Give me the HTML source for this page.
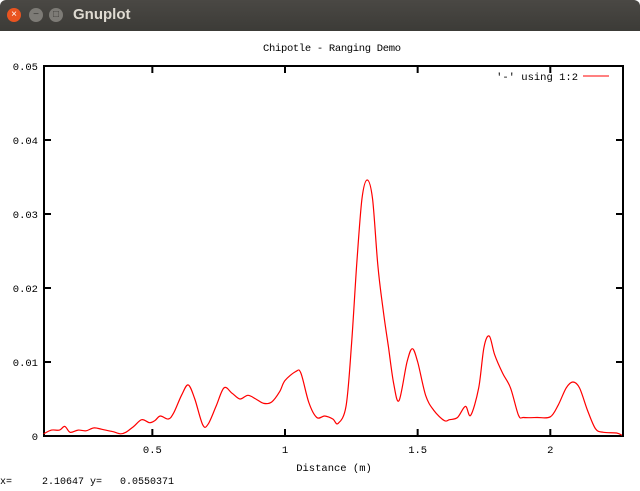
<!DOCTYPE html>
<html><head><meta charset="utf-8">
<style>
html,body{margin:0;padding:0;background:#fff;}
body{width:640px;height:491px;position:relative;overflow:hidden;font-family:"Liberation Sans",sans-serif;}
#titlebar{position:absolute;left:0;top:0;width:640px;height:31px;background:linear-gradient(#4a4844,#3c3b37);border-radius:6px 6px 0 0;}
.btn{position:absolute;top:8px;width:14px;height:14px;border-radius:50%;font-size:10px;line-height:14px;text-align:center;color:#3c3b37;}
#wtitle{position:absolute;left:73px;top:6px;color:#dfdbd2;font-weight:bold;font-size:15px;}
.st{position:absolute;top:477px;font-family:"Liberation Mono",monospace;font-size:10px;color:#000;white-space:pre;}
svg text{font-family:"Liberation Mono",monospace;font-size:10.5px;fill:#000;}
</style></head><body>
<div id="titlebar">
 <div class="btn" style="left:7px;background:#e95420;color:#fff">×</div>
 <div class="btn" style="left:29px;background:#7d7b76">−</div>
 <div class="btn" style="left:49px;background:#7d7b76">□</div>
 <div id="wtitle">Gnuplot</div>
</div>
<svg id="chart" width="640" height="491" style="position:absolute;left:0;top:0">
 <text x="332" y="51" text-anchor="middle" textLength="138">Chipotle - Ranging Demo</text>
 <text x="334" y="471" text-anchor="middle">Distance (m)</text>
 <g id="axes"></g>
 <g id="legend">
  <text x="578" y="80" text-anchor="end">'-' using 1:2</text>
  <line x1="583" y1="76" x2="609" y2="76" stroke="#f00" stroke-width="1"/>
 </g>
 <path id="series" fill="none" stroke="#f00" stroke-width="1.2"/>
</svg>
<div class="st" style="left:0">x=</div>
<div class="st" style="left:42px">2.10647 y=</div>
<div class="st" style="left:120px">0.0550371</div>
<script>
const xs=[0.09,0.12,0.15,0.17,0.19,0.22,0.25,0.28,0.31,0.35,0.38,0.40,0.43,0.46,0.49,0.51,0.53,0.56,0.58,0.61,0.635,0.66,0.69,0.71,0.74,0.77,0.80,0.83,0.86,0.89,0.92,0.95,0.98,1.00,1.04,1.06,1.09,1.12,1.15,1.18,1.20,1.23,1.25,1.27,1.29,1.31,1.33,1.35,1.37,1.39,1.41,1.43,1.46,1.48,1.50,1.53,1.56,1.60,1.62,1.65,1.68,1.70,1.73,1.75,1.77,1.79,1.82,1.85,1.88,1.90,1.95,2.00,2.03,2.06,2.085,2.11,2.14,2.17,2.20,2.25,2.27];
const ys=[0.0003,0.0008,0.0008,0.0013,0.0005,0.0008,0.0007,0.0011,0.0009,0.0006,0.0003,0.0005,0.0013,0.0022,0.0018,0.0021,0.0027,0.0023,0.0031,0.0055,0.0069,0.005,0.0015,0.0016,0.004,0.0065,0.0058,0.005,0.0055,0.005,0.0044,0.0046,0.006,0.0075,0.0087,0.0085,0.0045,0.0025,0.0027,0.0023,0.0017,0.004,0.012,0.023,0.032,0.0346,0.032,0.023,0.017,0.012,0.007,0.0048,0.01,0.0118,0.01,0.0055,0.0035,0.0021,0.0022,0.0025,0.004,0.0028,0.0065,0.012,0.0135,0.011,0.0085,0.0065,0.0028,0.0025,0.0025,0.0026,0.0042,0.0065,0.0073,0.0065,0.0035,0.001,0.0005,0.0004,0.0001];
const xTicks=[0.5,1,1.5,2];
const xTickLabels=["0.5","1","1.5","2"];
const yTicks=[0,0.01,0.02,0.03,0.04,0.05];
const yTickLabels=["0","0.01","0.02","0.03","0.04","0.05"];
const L=44,R=623,T=66,B=436,XMIN=0.0916,XMAX=2.274,YMIN=0,YMAX=0.05;
function sx(v){return L+(v-XMIN)/(XMAX-XMIN)*(R-L);}
function sy(v){return B-(v-YMIN)/(YMAX-YMIN)*(B-T);}
const NS="http://www.w3.org/2000/svg";
const ax=document.getElementById('axes');
function mk(tag,attrs,parent){const e=document.createElementNS(NS,tag);for(const k in attrs)e.setAttribute(k,attrs[k]);parent.appendChild(e);return e;}
const frame=mk('rect',{x:L,y:T,width:R-L,height:B-T,fill:'none',stroke:'#000','stroke-width':2},ax);


xTicks.forEach((v,i)=>{
 const x=sx(v);
 const t1=mk('line',{x1:x,y1:B,x2:x,y2:B-7,stroke:'#000','stroke-width':2},ax);
 
 
 const t2=mk('line',{x1:x,y1:T,x2:x,y2:T+7,stroke:'#000','stroke-width':2},ax);
 
 
 const lb=mk('text',{x:x,y:B+17,'text-anchor':'middle'},ax);lb.textContent=xTickLabels[i];
 
 
});
yTicks.forEach((v,i)=>{
 const y=sy(v);
 if(i>0&&i<yTicks.length-1){
  const t1=mk('line',{x1:L,y1:y,x2:L+7,y2:y,stroke:'#000','stroke-width':2},ax);
  
  
  const t2=mk('line',{x1:R,y1:y,x2:R-7,y2:y,stroke:'#000','stroke-width':2},ax);
  
  
 }
 const lb=mk('text',{x:38,y:y+4,'text-anchor':'end'},ax);lb.textContent=yTickLabels[i];
 
 
});
const P=xs.map((v,i)=>[sx(v),sy(ys[i])]);
let d='M'+P[0][0].toFixed(1)+','+P[0][1].toFixed(1);
for(let i=0;i<P.length-1;i++){
 const p0=P[Math.max(0,i-1)],p1=P[i],p2=P[i+1],p3=P[Math.min(P.length-1,i+2)];
 const c1=[p1[0]+(p2[0]-p0[0])/6,p1[1]+(p2[1]-p0[1])/6];
 const c2=[p2[0]-(p3[0]-p1[0])/6,p2[1]-(p3[1]-p1[1])/6];
 d+='C'+c1[0].toFixed(1)+','+c1[1].toFixed(1)+' '+c2[0].toFixed(1)+','+c2[1].toFixed(1)+' '+p2[0].toFixed(1)+','+p2[1].toFixed(1);
}
document.getElementById('series').setAttribute('d',d);
</script>
</body></html>
